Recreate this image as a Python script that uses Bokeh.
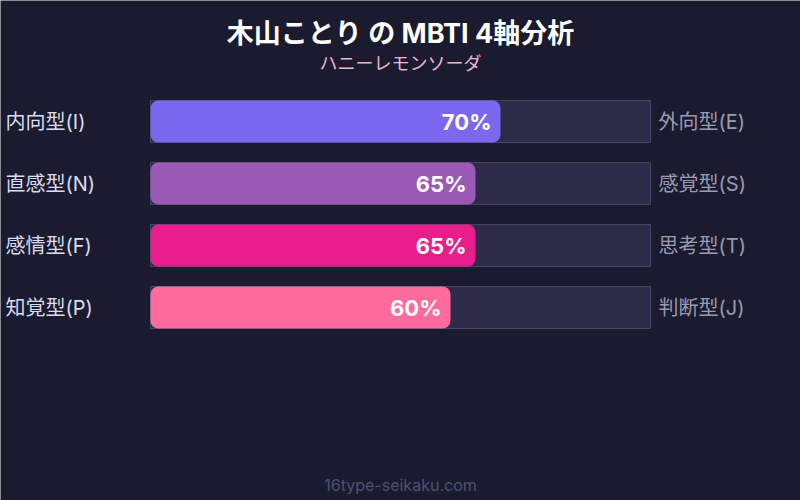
from bokeh.plotting import figure
from bokeh.models import Range1d
from bokeh.core.properties import value
from bokeh.embed import file_html
from bokeh.resources import INLINE

title_text = "木山ことり の MBTI 4軸分析"
subtitle_text = "ハニーレモンソーダ"
left_labels = ["内向型(I)", "直感型(N)", "感情型(F)", "知覚型(P)"]
right_labels = ["外向型(E)", "感覚型(S)", "思考型(T)", "判断型(J)"]
percents = [70, 65, 65, 60]
colors = ["#7b68ee", "#9b59b6", "#e91e8c", "#ff6b9d"]
footer_text = "16type-seikaku.com"

BG = "#1a1b2e"
FONT = value("Inter, 'Noto Sans CJK JP', sans-serif")

rows = list(range(len(percents)))

# geometry: track spans x 150..650 (0..100%), rows every 62px starting at y=121
PX_X = 5.0
X0 = 150.0
PX_Y = 62.0
Y0 = 121.0
W, H = 800, 500

def xd(px):
    return (px - X0) / PX_X

def yd(py):
    return (py - Y0) / PX_Y

p = figure(width=W, height=H, output_backend="svg", toolbar_location=None,
           x_range=Range1d(xd(0), xd(W)),
           y_range=Range1d(yd(H), yd(0)),
           min_border=0)
p.background_fill_color = BG
p.border_fill_color = BG
p.outline_line_color = None
p.xgrid.visible = False
p.ygrid.visible = False
p.xaxis.visible = False
p.yaxis.visible = False

bar_h = 42 / PX_Y

p.hbar(y=rows, left=0, right=[100] * len(rows), height=bar_h,
       fill_color="#2c2c48", line_color="#45466a", line_width=1)
p.hbar(y=rows, left=0, right=percents, height=bar_h,
       fill_color=colors, line_color=None, border_radius=8)

p.text(x=[xd(5)] * len(rows), y=rows, text=left_labels, text_align="left",
       text_baseline="middle", text_font_size="20px", text_color="#dcdcf0",
       text_font=FONT)
p.text(x=[xd(658)] * len(rows), y=rows, text=right_labels, text_align="left",
       text_baseline="middle", text_font_size="20px", text_color="#9a9ab2",
       text_font=FONT)
p.text(x=[v - 9 / PX_X for v in percents], y=rows,
       text=[f"{v}%" for v in percents], text_align="right",
       text_baseline="middle", text_font_size="22px", text_font_style="bold",
       text_color="#ffffff", text_font=FONT)

p.text(x=[xd(400)], y=[yd(33)], text=[title_text], text_align="center",
       text_baseline="middle", text_font_size="27px", text_font_style="bold",
       text_color="#ffffff", text_font=FONT)
p.text(x=[xd(400)], y=[yd(63)], text=[subtitle_text], text_align="center",
       text_baseline="middle", text_font_size="18px",
       text_color="#f0b4d6", text_font=FONT)
p.text(x=[xd(400)], y=[yd(484)], text=[footer_text], text_align="center",
       text_baseline="middle", text_font_size="16px",
       text_color="#4f5170", text_font=FONT)

html = file_html(p, INLINE)
html = html.replace("<body>", f'<body style="background-color:{BG};margin:0;">', 1)
open("out.html", "w").write(html)
